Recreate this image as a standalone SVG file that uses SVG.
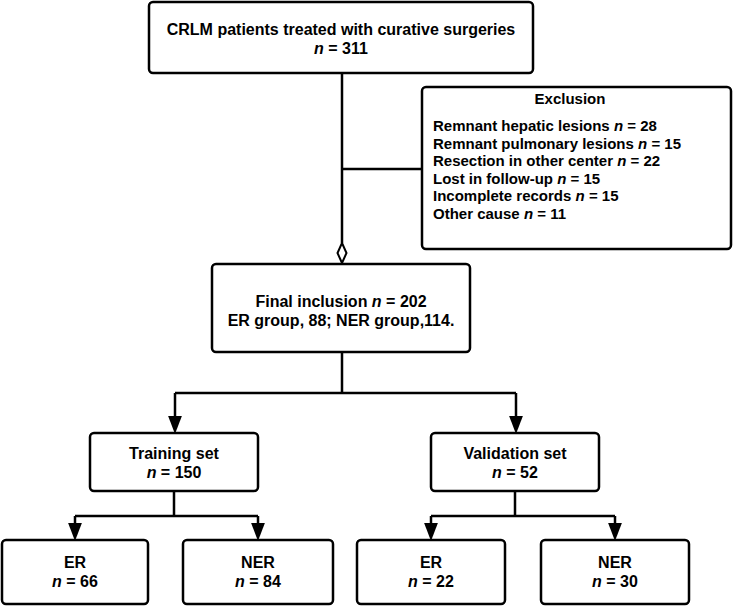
<svg xmlns="http://www.w3.org/2000/svg" width="733" height="606" viewBox="0 0 733 606">
<defs>
<style>
.box{fill:#fff;stroke:#000;stroke-width:2.5}
.ln{fill:none;stroke:#000;stroke-width:2.5}
text{font-family:"Liberation Sans",Arial,sans-serif;font-weight:bold;font-size:16px;fill:#000}
text.s{font-size:15px}
.c{text-anchor:middle}
.i{font-style:italic}
</style>
<marker id="arr" markerUnits="userSpaceOnUse" markerWidth="18" markerHeight="14" refX="0" refY="6.5" orient="auto" viewBox="0 0 17 13">
<path d="M0,0 L17,6.5 L0,13 Z" fill="#000"/>
</marker>
</defs>
<rect width="733" height="606" fill="#fff"/>
<g id="connectors">
<path class="ln" d="M342,73 V243"/>
<path class="ln" d="M342,169 H422"/>
<path d="M342,243 L346.5,253 L342,263 L337.5,253 Z" fill="#fff" stroke="#000" stroke-width="2"/>
<path class="ln" d="M342,352 V393 M175,393 H516"/>
<path class="ln" d="M175,393 V416" marker-end="url(#arr)"/>
<path class="ln" d="M516,393 V416" marker-end="url(#arr)"/>
<path class="ln" d="M174,491 V516 M75,516 H258"/>
<path class="ln" d="M75,516 V523" marker-end="url(#arr)"/>
<path class="ln" d="M258,516 V523" marker-end="url(#arr)"/>
<path class="ln" d="M515,491 V516 M431,516 H615"/>
<path class="ln" d="M431,516 V523" marker-end="url(#arr)"/>
<path class="ln" d="M615,516 V523" marker-end="url(#arr)"/>
</g>
<g id="n-top">
<rect class="box" x="149" y="2" width="384" height="71" rx="4"/>
<text class="c" x="341" y="35">CRLM patients treated with curative surgeries</text>
<text class="c" x="341" y="54"><tspan class="i">n</tspan> = 311</text>
</g>
<g id="n-exclusion">
<rect class="box" x="422" y="87" width="309" height="162" rx="4"/>
<text class="c s" x="570" y="104">Exclusion</text>
<text class="s" x="433" y="131">Remnant hepatic lesions <tspan class="i">n</tspan> = 28</text>
<text class="s" x="433" y="148.6">Remnant pulmonary lesions  <tspan class="i">n</tspan> = 15</text>
<text class="s" x="433" y="166.2">Resection in other center <tspan class="i">n</tspan> = 22</text>
<text class="s" x="433" y="183.8">Lost in follow-up <tspan class="i">n</tspan> = 15</text>
<text class="s" x="433" y="201.4">Incomplete records <tspan class="i">n</tspan> = 15</text>
<text class="s" x="433" y="219">Other cause <tspan class="i">n</tspan> = 11</text>
</g>
<g id="n-final">
<rect class="box" x="212" y="264" width="258" height="88" rx="4"/>
<text class="c" x="341" y="307">Final inclusion <tspan class="i">n</tspan> = 202</text>
<text class="c" x="341" y="326">ER group, 88; NER group,114.</text>
</g>
<g id="n-training">
<rect class="box" x="90" y="433" width="168" height="58" rx="4"/>
<text class="c" x="174" y="459">Training set</text>
<text class="c" x="174" y="478"><tspan class="i">n</tspan> = 150</text>
</g>
<g id="n-validation">
<rect class="box" x="431" y="433" width="168" height="58" rx="4"/>
<text class="c" x="515" y="459">Validation set</text>
<text class="c" x="515" y="478"><tspan class="i">n</tspan> = 52</text>
</g>
<g id="n-er1">
<rect class="box" x="2" y="540" width="146" height="64" rx="4"/>
<text class="c" x="75" y="568">ER</text>
<text class="c" x="75" y="587"><tspan class="i">n</tspan> = 66</text>
</g>
<g id="n-ner1">
<rect class="box" x="183" y="540" width="150" height="64" rx="4"/>
<text class="c" x="258" y="568">NER</text>
<text class="c" x="258" y="587"><tspan class="i">n</tspan> = 84</text>
</g>
<g id="n-er2">
<rect class="box" x="357" y="540" width="148" height="64" rx="4"/>
<text class="c" x="431" y="568">ER</text>
<text class="c" x="431" y="587"><tspan class="i">n</tspan> = 22</text>
</g>
<g id="n-ner2">
<rect class="box" x="541" y="540" width="148" height="64" rx="4"/>
<text class="c" x="615" y="568">NER</text>
<text class="c" x="615" y="587"><tspan class="i">n</tspan> = 30</text>
</g>
</svg>
